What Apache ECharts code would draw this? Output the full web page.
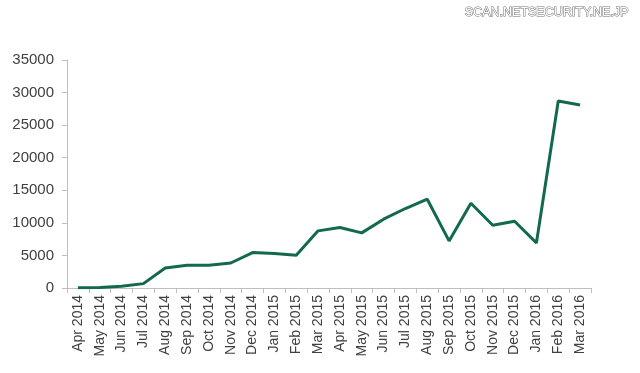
<!DOCTYPE html>
<html>
<head>
<meta charset="utf-8">
<script src="https://cdn.jsdelivr.net/npm/echarts@6/dist/echarts.min.js"></script>
<style>
html,body{margin:0;padding:0;background:#fff;}
#chart{width:640px;height:373px;}
</style>
</head>
<body>
<div id="chart"></div>
<script>
var categories = ['Apr 2014','May 2014','Jun 2014','Jul 2014','Aug 2014','Sep 2014','Oct 2014','Nov 2014','Dec 2014','Jan 2015','Feb 2015','Mar 2015','Apr 2015','May 2015','Jun 2015','Jul 2015','Aug 2015','Sep 2015','Oct 2015','Nov 2015','Dec 2015','Jan 2016','Feb 2016','Mar 2016'];
var values = [50, 80, 260, 670, 3070, 3490, 3490, 3840, 5440, 5280, 5030, 8770, 9280, 8460, 10560, 12200, 13630, 7230, 13020, 9640, 10250, 6920, 28700, 28080];
var watermark = 'SCAN.NETSECURITY.NE.JP';

var chart = echarts.init(document.getElementById('chart'), null, {renderer:'canvas'});
chart.setOption({
  animation:false,
  backgroundColor:'#ffffff',
  graphic:[{
    type:'text', right:11, top:6,
    style:{text:watermark, font:'12.5px "Liberation Sans", Arial, sans-serif', fill:'#ffffff', stroke:'#707070', lineWidth:1}
  }],
  grid:{left:67, right:49, top:60, bottom:85, containLabel:false},
  xAxis:{
    type:'category', data:categories, boundaryGap:true,
    axisLine:{lineStyle:{color:'#bfbfbf', width:1}},
    axisTick:{show:true, alignWithLabel:false, length:5, lineStyle:{color:'#bfbfbf'}},
    axisLabel:{rotate:90, interval:0, margin:7, color:'#404040', fontSize:14, fontFamily:'"Liberation Sans", Arial, sans-serif'}
  },
  yAxis:{
    type:'value', min:0, max:35000, interval:5000,
    axisLine:{show:true, lineStyle:{color:'#bfbfbf', width:1}},
    axisTick:{show:true, length:5, lineStyle:{color:'#bfbfbf'}},
    splitLine:{show:false},
    axisLabel:{margin:13, color:'#404040', fontSize:15, fontFamily:'"Liberation Sans", Arial, sans-serif',
      formatter:function(v){return String(v);}}
  },
  series:[{
    type:'line', data:values, symbol:'none', smooth:false,
    lineStyle:{color:'#13694f', width:3}
  }]
});
</script>
</body>
</html>
